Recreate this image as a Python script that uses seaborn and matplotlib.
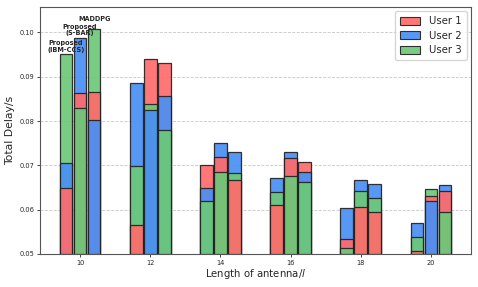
import numpy as np
import pandas as pd
import matplotlib
matplotlib.use("Agg")
import matplotlib.pyplot as plt
import seaborn as sns

antenna = ["10", "12", "14", "16", "18", "20"]
methods = ["Proposed\n(IBM-CCS)", "Proposed\n(S-BAR)", "MADDPG"]
users = ["User 1", "User 2", "User 3"]

# delay per user, rows = antenna length, one list per method
ibm_ccs_u1 = [0.0648, 0.0565, 0.0701, 0.0610, 0.0533, 0.0506]
ibm_ccs_u2 = [0.0705, 0.0885, 0.0650, 0.0672, 0.0604, 0.0569]
ibm_ccs_u3 = [0.0951, 0.0699, 0.0620, 0.0639, 0.0513, 0.0538]

sbar_u1 = [0.0863, 0.0940, 0.0720, 0.0717, 0.0607, 0.0631]
sbar_u2 = [0.0988, 0.0824, 0.0750, 0.0731, 0.0667, 0.0619]
sbar_u3 = [0.0829, 0.0839, 0.0684, 0.0675, 0.0642, 0.0647]

maddpg_u1 = [0.0866, 0.0930, 0.0668, 0.0707, 0.0594, 0.0643]
maddpg_u2 = [0.0802, 0.0857, 0.0730, 0.0686, 0.0659, 0.0656]
maddpg_u3 = [0.1007, 0.0779, 0.0682, 0.0663, 0.0626, 0.0595]

data = {
    methods[0]: [ibm_ccs_u1, ibm_ccs_u2, ibm_ccs_u3],
    methods[1]: [sbar_u1, sbar_u2, sbar_u3],
    methods[2]: [maddpg_u1, maddpg_u2, maddpg_u3],
}

colors = {"User 1": "#ff6b6b", "User 2": "#4a8ff5", "User 3": "#6cc978"}

sns.set_theme(style="ticks")
plt.rcParams['font.family'] = ['DejaVu Sans']

fig, ax = plt.subplots(figsize=(4.78, 2.87), dpi=100)

x = np.arange(len(antenna))
offsets = [-0.2, 0.0, 0.2]
width = 0.18
base = 0.05

for m, off in zip(methods, offsets):
    vals = np.array(data[m])  # 3 x 6
    for j in range(len(antenna)):
        # draw tallest first so shorter bars show in front
        order = np.argsort(-vals[:, j])
        for k in order:
            ax.bar(x[j] + off, vals[k, j] - base, bottom=base, width=width,
                   color=colors[users[k]], edgecolor="#222222", linewidth=0.9,
                   alpha=0.92, zorder=3)

# labels over the first group
tops = [max(col[0] for col in data[m]) for m in methods]
pads = [0.0003, 0.0003, 0.0017]
for m, off, t, p in zip(methods, offsets, tops, pads):
    ax.text(x[0] + off, t + p, m, ha="center", va="bottom",
            fontsize=4.7, fontweight="bold", linespacing=1.1, zorder=5)

handles = [plt.Rectangle((0, 0), 1, 1, facecolor=colors[u], edgecolor="#222222",
                         linewidth=0.8, alpha=0.92) for u in users]
ax.legend(handles, users, loc="upper right", fontsize=7.3, frameon=True,
          handlelength=2.0, handleheight=0.85, borderpad=0.5, labelspacing=0.45,
          handletextpad=0.9, borderaxespad=0.4)

ax.set_xticks(x)
ax.set_xticklabels(antenna, fontsize=4.8)
ax.set_ylim(0.05, 0.1057)
ax.set_yticks([0.05, 0.06, 0.07, 0.08, 0.09, 0.10])
ax.set_yticklabels(["0.05", "0.06", "0.07", "0.08", "0.09", "0.10"], fontsize=4.8)
ax.tick_params(length=2.5, width=0.6, pad=1.5)
ax.yaxis.grid(True, linestyle="--", color="#c8c8c8", linewidth=0.6, zorder=0)
ax.set_axisbelow(True)
ax.set_xlabel("Length of antenna/$l$", fontsize=7.3, labelpad=1)
ax.set_ylabel("Total Delay/s", fontsize=7.8, labelpad=3)
for s in ax.spines.values():
    s.set_color("#555555")
    s.set_linewidth(0.8)

fig.subplots_adjust(left=0.084, right=0.985, top=0.975, bottom=0.115)
fig.savefig("out.png", dpi=100)
